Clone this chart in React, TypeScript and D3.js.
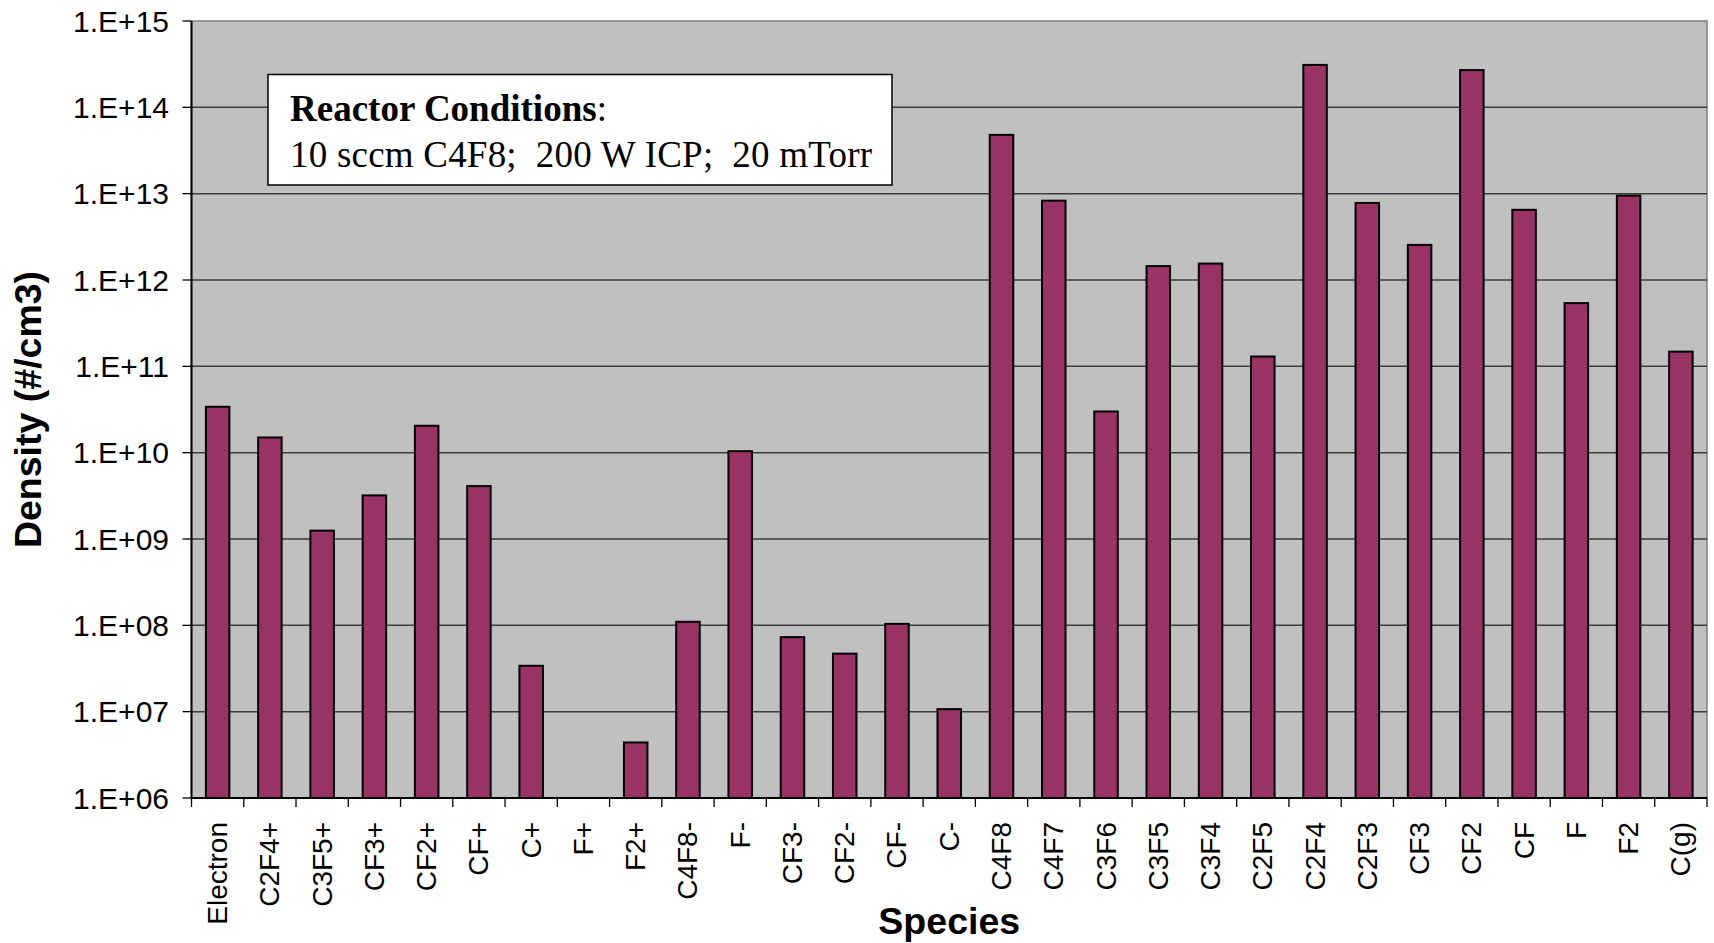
import React from "react";
import * as d3 from "d3";

const categories = ["Electron","C2F4+","C3F5+","CF3+","CF2+","CF+","C+","F+","F2+","C4F8-","F-","CF3-","CF2-","CF-","C-","C4F8","C4F7","C3F6","C3F5","C3F4","C2F5","C2F4","C2F3","CF3","CF2","CF","F","F2","C(g)"];
const densities: (number | null)[] = [3.4e10,1.5e10,1.25e9,3.2e9,2.05e10,4.1e9,3.4e7,null,4.4e6,1.1e8,1.04e10,7.3e7,4.7e7,1.04e8,1.07e7,4.8e13,8.3e12,3.0e10,1.45e12,1.55e12,1.3e11,3.1e14,7.8e12,2.55e12,2.7e14,6.5e12,5.4e11,9.5e12,1.48e11];
const yTickExponents = [6,7,8,9,10,11,12,13,14,15];
const yTitle = "Density (#/cm3)";
const xTitle = "Species";
const noteTitle = "Reactor Conditions";
const noteBody = "10 sccm C4F8;  200 W ICP;  20 mTorr";

const W = 1714, H = 943;
const L = 191.5, R = 1707, T = 21, B = 798;

export default function App() {
  const x = d3.scaleBand<string>().domain(categories).range([L, R]).paddingInner(0.55).paddingOuter(0.275);
  const band = d3.scaleBand<string>().domain(categories).range([L, R]);
  const y = d3.scaleLog().domain([1e6, 1e15]).range([B, T]);
  const fmt = (e: number) => "1.E+" + (e < 10 ? "0" + e : "" + e);
  const boundaries = categories.map((c) => band(c) as number).concat([R]);
  return (
    <svg width={W} height={H} style={{ position: "absolute", left: 0, top: 0, display: "block", background: "#fff" }}>
      <rect x={L} y={T} width={R - L} height={B - T} fill="#C0C0C0" stroke="#808080" strokeWidth={1.5} />
      {yTickExponents.map((e) => (
        <g key={e}>
          {e > 6 && e < 15 && <line x1={L} x2={R} y1={y(Math.pow(10, e))} y2={y(Math.pow(10, e))} stroke="#3c3c3c" strokeWidth={1.5} />}
          <line x1={L - 9} x2={L} y1={y(Math.pow(10, e))} y2={y(Math.pow(10, e))} stroke="#000" strokeWidth={1.3} />
          <text x={169} y={y(Math.pow(10, e))} dominantBaseline="central" textAnchor="end" fontFamily="Liberation Sans, Arial, sans-serif" fontSize={30} fill="#000">{fmt(e)}</text>
        </g>
      ))}
      {categories.map((c, i) => {
        const v = densities[i];
        if (v == null) return null;
        return (
          <rect key={c} x={x(c)} y={y(v)} width={x.bandwidth()} height={B - y(v)} fill="#993366" stroke="#000" strokeWidth={2} />
        );
      })}
      <line x1={L} x2={L} y1={T} y2={B} stroke="#000" strokeWidth={2} />
      <line x1={L} x2={R} y1={B} y2={B} stroke="#000" strokeWidth={2} />
      {boundaries.map((bx, i) => (
        <line key={i} x1={bx} x2={bx} y1={B} y2={B + 9} stroke="#000" strokeWidth={1.3} />
      ))}
      {categories.map((c) => {
        const cx = (band(c) as number) + band.bandwidth() / 2;
        return (
          <text key={c} transform={`translate(${cx},822) rotate(-90)`} textAnchor="end" dominantBaseline="central" fontFamily="Liberation Sans, Arial, sans-serif" fontSize={28} fill="#000">{c}</text>
        );
      })}
      <text x={(L + R) / 2} y={934} textAnchor="middle" fontFamily="Liberation Sans, Arial, sans-serif" fontWeight="bold" fontSize={37.5} fill="#000">{xTitle}</text>
      <text transform={`translate(41,${(T + B) / 2}) rotate(-90)`} textAnchor="middle" fontFamily="Liberation Sans, Arial, sans-serif" fontWeight="bold" fontSize={37.5} fill="#000">{yTitle}</text>
      <rect x={268} y={74.5} width={624} height={110.5} fill="#fff" stroke="#000" strokeWidth={1.5} />
      <text x={290} y={121} fontFamily="Liberation Serif, Times New Roman, serif" fontSize={37} fill="#000">
        <tspan fontWeight="bold">{noteTitle}</tspan>
        <tspan>:</tspan>
      </text>
      <text x={290} y={167} fontFamily="Liberation Serif, Times New Roman, serif" fontSize={37} fill="#000" textLength={582} lengthAdjust="spacing" style={{ whiteSpace: "pre" }}>{noteBody}</text>
    </svg>
  );
}
